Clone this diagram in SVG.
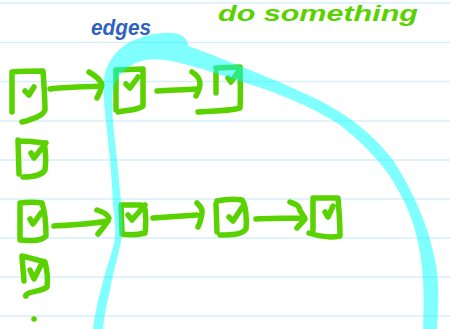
<svg xmlns="http://www.w3.org/2000/svg" width="450" height="329" viewBox="0 0 450 329">
<style>
.rule{stroke:#d6eefa;stroke-width:1.6}
.ink{fill:none;stroke:#5ad200;stroke-width:5.5;stroke-linecap:round;stroke-linejoin:round}
.hl{fill:#00ffff;fill-opacity:0.5}
.t1{font-family:"Liberation Sans",Arial,sans-serif;font-weight:bold;font-style:italic}
</style>
<rect width="450" height="329" fill="#ffffff"/>
<g id="rules">
<line class="rule" x1="0" y1="3" x2="450" y2="3"/>
<line class="rule" x1="0" y1="42.5" x2="450" y2="42.5"/>
<line class="rule" x1="0" y1="81.5" x2="450" y2="81.5"/>
<line class="rule" x1="0" y1="121" x2="450" y2="121"/>
<line class="rule" x1="0" y1="160" x2="450" y2="160"/>
<line class="rule" x1="0" y1="199" x2="450" y2="199"/>
<line class="rule" x1="0" y1="238" x2="450" y2="238"/>
<line class="rule" x1="0" y1="277" x2="450" y2="277"/>
<line class="rule" x1="0" y1="316" x2="450" y2="316"/>
</g>
<text class="t1" x="218" y="21" font-size="22" fill="#5ad200" textLength="200" lengthAdjust="spacingAndGlyphs">do something</text>
<text class="t1" x="91" y="35" font-size="22" fill="#2f62c0" textLength="60" lengthAdjust="spacingAndGlyphs">edges</text>
<g id="connectors" class="ink">
<path d="M50,89 C65,87 85,87 100,86 M89,72 C96,76 101,80 102,85 C101,90 99,94 97,98"/>
<path d="M157,91 C170,90 185,90 196,89 M192,72 C197,75 200,79 200,84 C200,88 198,92 196,96"/>
<path d="M54,226 C72,225 92,224 108,221 M97,210 C103,212 108,215 109,218 C107,224 102,229 98,234"/>
<path d="M153,218 C167,217 182,216 197,215 M197,203 C200,206 203,209 202,213 C201,219 200,223 198,227"/>
<path d="M256,219 C272,218 290,218 304,218 M290,202 C294,204 299,205 299,208 C300,212 304,215 305,219 C303,222 299,225 297,228"/>
</g>
<g id="n1" class="ink"><path d="M12,72 L12,112 M12,72 C22,71 35,71 43,71 C44,85 45,100 45,110 C43,116 33,119 22,122 M25,91 L29,95 L34,87"/></g>
<g id="n2" class="ink"><path d="M116,70 L116,110 M116,70 L143,69 C143,80 143,95 143,106 C138,110 128,110 118,112 M126,84 L130,88 L138,77"/></g>
<g id="n3" class="ink"><path d="M216,73 L216,93 M216,68 L240,67 C240,80 241,95 240,108 C230,111 210,111 198,112 M228,78 L231,82 L238,72"/></g>
<g id="n4" class="ink"><path d="M18,140 L19,174 M18,141 C28,141 38,142 44,143 C46,152 46,162 45,170 C42,175 32,177 23,177 M31,153 L34,158 L46,143"/></g>
<g id="n5" class="ink"><path d="M20,205 L20,240 M20,203 C28,202 36,202 42,203 C45,212 46,225 46,236 C42,241 30,241 22,240 M30,219 L33,224 L41,213"/></g>
<g id="n6" class="ink"><path d="M121,206 L122,232 M121,205 L141,205 M145,209 C146,218 146,226 145,233 C137,235 128,235 122,234 M128,215 L132,220 L145,205"/></g>
<g id="n7" class="ink"><path d="M216,204 L217,232 M217,201 C226,199 236,199 242,200 C246,205 247,220 246,229 C242,235 230,235 220,235 M229,217 L233,221 L243,206"/></g>
<g id="n8" class="ink"><path d="M313,201 L313,230 M313,198 L338,198 C339,210 340,222 340,236 C330,238 318,236 309,233 M325,212 L328,217 L333,206"/></g>
<g id="n9" class="ink"><path d="M22,257 L24,281 M22,256 C30,258 38,260 45,262 C47,270 48,280 47,287 C42,291 34,291 29,293 C26,294 25,296 26,296 M30,270 L34,279 L41,265"/></g>
<circle cx="34" cy="319" r="2.8" fill="#5ad200"/>
<path class="hl" d="M93,329 C96,305 101,290 104,278 C108,262 114,248 115,237 C116,225 114,215 113,205 C112,180 110,160 108,140 C106,120 103,100 104,80 C105,65 115,50 130,42 C145,35 160,32 172,33 C182,34 188,38 188,46 C200,50 215,56 230,62 C260,74 290,86 310,96 C345,112 375,135 395,163 C415,195 430,230 436,265 C440,290 438,310 437,329 L423,329 C424,305 424,280 421,260 C418,235 410,210 398,190 C385,165 365,145 340,125 C310,105 270,90 230,78 C205,70 185,63 165,60 C150,58 140,60 130,66 C118,74 112,85 112,100 C112,120 115,140 117,160 C119,180 121,200 122,215 C123,228 122,240 118,255 C115,268 112,278 110,290 C107,303 104,315 103,329 Z"/>
</svg>
